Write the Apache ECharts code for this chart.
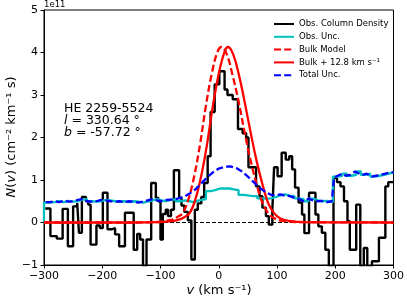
<!DOCTYPE html>
<html>
<head>
<meta charset="utf-8">
<script src="https://cdn.jsdelivr.net/npm/echarts@6/dist/echarts.min.js"></script>
<style>html,body{margin:0;padding:0;background:#fff}#c{width:407px;height:305px}</style>
</head>
<body>
<div id="c"></div>
<script>
// Observed column density (step histogram): bin left edges (km/s) and values (1e11)
const obsVel = [-298,-289,-278,-268,-259,-250,-243,-240,-235,-228,-224,-220,-210,-204,-199,-191,-184,-178,-171,-161,-146,-140,-135,-130,-124,-116,-108,-104,-100,-96,-91,-87,-82,-77,-68,-64,-59,-53,-47,-41,-36,-30,-25,-19,-14,-7,1,10,15,24,33,41,47,51,64,70,75,81,86,92,95,101,108,115,121,126,131,137,143,147,155,166,171,177,183,189,197,203,209,215,221,225,236,243,249,255,263,275,286,291,300];
const obsCol = [0.33,-0.32,-0.38,0.32,-0.56,0.38,0.46,-0.24,0.6,0.5,0.42,-0.52,-0.07,-0.13,0.7,-0.16,-0.13,-0.28,-0.56,0.23,-0.64,-0.27,-0.4,-1.05,-0.4,0.93,0.58,0.5,-0.4,0.2,0.3,0.15,0.3,1.23,0.58,0.4,0.25,0.05,-0.87,0.3,0.45,0.6,0.93,1.56,2.6,3.25,3.56,3.13,3.0,2.9,2.2,2.1,2.0,1.3,0.85,0.62,0.35,0.15,-0.05,0.3,1.3,1.09,1.64,1.48,1.56,1.25,0.82,0.47,0.19,-0.25,0.7,0.19,-0.09,-0.24,-0.64,-1.05,1.05,0.95,0.85,0.5,0.03,-0.64,0.42,-1.05,-0.6,-1.05,-0.91,-0.36,0.85,0.95,0.95];

// Observational uncertainty (step)
const uncVel = [-300,-300,-290,-282,-274,-266,-258,-250,-242,-234,-226,-218,-210,-202,-194,-186,-178,-170,-162,-154,-146,-138,-130,-122,-114,-106,-98,-90,-82,-74,-66,-58,-50,-42,-34,-22,-14,-6,2,10,18,26,34,42,50,58,66,74,82,90,98,106,114,122,130,138,146,154,162,170,178,186,196,204,212,220,228,236,244,252,260,268,276,284,292,300];
const uncVal = [0,0.47,0.48,0.5,0.48,0.51,0.49,0.5,0.53,0.55,0.5,0.49,0.5,0.53,0.52,0.5,0.49,0.5,0.48,0.5,0.49,0.47,0.49,0.52,0.55,0.52,0.5,0.53,0.55,0.5,0.52,0.5,0.48,0.52,0.55,0.74,0.76,0.8,0.8,0.8,0.78,0.76,0.65,0.64,0.62,0.62,0.57,0.56,0.57,0.6,0.64,0.66,0.63,0.62,0.57,0.55,0.5,0.56,0.52,0.5,0.51,0.48,1.08,1.1,1.15,1.1,1.12,1.2,1.12,1.15,1.08,1.1,1.12,1.15,1.18,1.18];

// Bulk model (dashed) and shifted bulk model (solid)
const bulkVel = [-300,-150,-110,-90,-80,-70,-62,-52,-42,-32,-22,-12,-2,5,14,24,34,44,54,64,74,84,94,110,140,300];
const bulkVal = [0,0,0.01,0.04,0.07,0.14,0.22,0.55,1.1,1.85,2.75,3.5,4.02,4.13,3.95,3.45,2.85,2.15,1.5,0.95,0.5,0.24,0.11,0.04,0.01,0];
const shiftVel = [-300,-150,-100,-80,-70,-60,-50,-40,-30,-20,-10,0,10,16,25,35,45,55,65,75,85,95,105,120,150,300];
const shiftVal = [0,0,0.01,0.03,0.06,0.12,0.22,0.55,1.1,1.85,2.75,3.5,4.02,4.13,3.95,3.45,2.8,2.1,1.45,0.9,0.45,0.22,0.1,0.04,0.01,0];

// Total uncertainty
const totVel = [-297,-290,-282,-274,-266,-258,-250,-242,-234,-226,-218,-210,-202,-194,-186,-178,-170,-162,-154,-146,-138,-130,-122,-114,-106,-98,-90,-82,-74,-66,-58,-50,-40,-30,-20,-10,0,10,20,30,40,50,60,70,80,90,98,106,114,122,130,138,146,154,162,170,178,186,194,198,204,212,218,226,234,240,246,254,262,270,278,286,294,300];
const totVal = [0.48,0.48,0.5,0.48,0.51,0.49,0.5,0.53,0.55,0.5,0.49,0.5,0.53,0.52,0.5,0.49,0.5,0.48,0.5,0.49,0.47,0.49,0.52,0.55,0.52,0.5,0.53,0.54,0.55,0.58,0.62,0.68,0.78,0.92,1.06,1.18,1.27,1.31,1.32,1.28,1.2,1.08,0.95,0.82,0.72,0.65,0.64,0.66,0.63,0.62,0.58,0.55,0.5,0.56,0.52,0.5,0.51,0.48,0.5,1.06,1.1,1.15,1.1,1.12,1.2,1.16,1.12,1.15,1.08,1.1,1.12,1.15,1.18,1.18];

const xTicks = [-300,-200,-100,0,100,200,300];
const yTicks = [-1,0,1,2,3,4,5];

const zip = (a, b) => a.map((v, i) => [v, b[i]]);
const F = 'DejaVu Sans';
const minus = v => String(v).replace('-', '\u2212');

const chart = echarts.init(document.getElementById('c'), null, {renderer: 'canvas'});
chart.setOption({
  animation: false,
  backgroundColor: '#fff',
  grid: {left: 44, right: 12, top: 10, bottom: 40, show: true, borderColor: '#000', borderWidth: 1, backgroundColor: 'transparent'},
  xAxis: {
    type: 'value', min: xTicks[0], max: xTicks[xTicks.length - 1], interval: 100,
    axisLine: {onZero: false, lineStyle: {color: '#000', width: 1}},
    axisTick: {length: 3.5, lineStyle: {color: '#000'}},
    splitLine: {show: false},
    axisLabel: {color: '#000', fontFamily: F, fontSize: 11, margin: 6, formatter: minus}
  },
  yAxis: {
    type: 'value', min: yTicks[0], max: yTicks[yTicks.length - 1], interval: 1,
    axisLine: {onZero: false, lineStyle: {color: '#000', width: 1}},
    axisTick: {length: 3.5, lineStyle: {color: '#000'}},
    splitLine: {show: false},
    axisLabel: {color: '#000', fontFamily: F, fontSize: 11, margin: 6, formatter: minus}
  },
  legend: {
    data: ['Obs. Column Density', 'Obs. Unc.', 'Bulk Model', 'Bulk + 12.8 km s\u207B\u00B9', 'Total Unc.'],
    orient: 'vertical', left: 268, top: 14, itemWidth: 20, itemHeight: 8, itemGap: 2.8,
    itemStyle: {opacity: 0, borderWidth: 0},
    textStyle: {fontFamily: F, fontSize: 8.5, color: '#000', lineHeight: 10}
  },
  graphic: [
    {type: 'text', x: 44, y: 0, style: {text: '1e11', fontFamily: F, fontSize: 8.5, fill: '#000'}},
    {type: 'text', x: 64, y: 102, style: {text: 'HE 2259-5524', fontFamily: F, fontSize: 12.5, fill: '#000'}},
    {type: 'text', x: 64, y: 114, style: {text: '{i|l} = 330.64 \u00B0', fontFamily: F, fontSize: 12.5, fill: '#000', rich: {i: {fontStyle: 'italic', fontFamily: F, fontSize: 12.5}}}},
    {type: 'text', x: 64, y: 126, style: {text: '{i|b} = -57.72 \u00B0', fontFamily: F, fontSize: 12.5, fill: '#000', rich: {i: {fontStyle: 'italic', fontFamily: F, fontSize: 12.5}}}},
    {type: 'text', x: 219, y: 284, style: {text: '{i|v} (km s\u207B\u00B9)', align: 'center', textAlign: 'center', fontFamily: F, fontSize: 13, fill: '#000', rich: {i: {fontStyle: 'italic', fontFamily: F, fontSize: 13}}}},
    {type: 'text', x: 12, y: 137, rotation: Math.PI / 2, style: {text: '{i|N}({i|v}) (cm\u207B\u00B2 km\u207B\u00B9 s)', align: 'center', textAlign: 'center', verticalAlign: 'middle', textVerticalAlign: 'middle', fontFamily: F, fontSize: 13, fill: '#000', rich: {i: {fontStyle: 'italic', fontFamily: F, fontSize: 13}}}}
  ],
  series: [
    {type: 'line', data: [[-300, 0], [300, 0]], symbol: 'none', silent: true,
     lineStyle: {color: '#000', width: 1, type: [4, 2]}},
    {name: 'Obs. Column Density', type: 'line', step: 'end', data: zip(obsVel, obsCol), symbol: 'none',
     lineStyle: {color: '#000', width: 2.4}, itemStyle: {color: '#000'}},
    {name: 'Obs. Unc.', type: 'line', step: 'end', data: zip(uncVel, uncVal), symbol: 'none',
     lineStyle: {color: '#00bfbf', width: 2.3}, itemStyle: {color: '#00bfbf'}},
    {name: 'Bulk Model', type: 'line', smooth: 0.4, data: zip(bulkVel, bulkVal), symbol: 'none',
     lineStyle: {color: '#ff0000', width: 2.3, type: [7, 3.2]}, itemStyle: {color: '#ff0000'}},
    {name: 'Bulk + 12.8 km s\u207B\u00B9', type: 'line', smooth: 0.4, data: zip(shiftVel, shiftVal), symbol: 'none',
     lineStyle: {color: '#ff0000', width: 2.3}, itemStyle: {color: '#ff0000'}},
    {name: 'Total Unc.', type: 'line', data: zip(totVel, totVal), symbol: 'none',
     lineStyle: {color: '#0000ff', width: 2.3, type: [7, 3.2]}, itemStyle: {color: '#0000ff'}}
  ]
});
</script>
</body>
</html>
